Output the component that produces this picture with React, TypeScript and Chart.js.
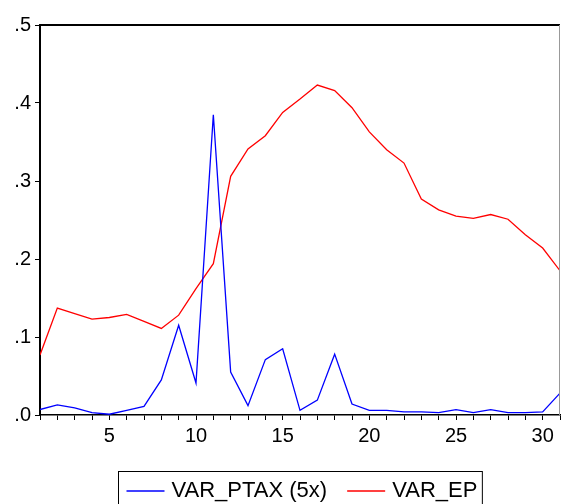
import React, { useEffect, useRef } from "react";
import { Chart, registerables } from "chart.js";

Chart.register(...registerables);

const days = [1,2,3,4,5,6,7,8,9,10,11,12,13,14,15,16,17,18,19,20,21,22,23,24,25,26,27,28,29,30,31];
const varPtax5x = [0.007,0.013,0.009,0.003,0.001,0.006,0.011,0.045,0.115,0.041,0.385,0.055,0.012,0.071,0.085,0.006,0.019,0.078,0.014,0.006,0.006,0.004,0.004,0.003,0.007,0.003,0.007,0.003,0.003,0.004,0.028];
const varEp = [0.077,0.137,0.130,0.123,0.125,0.129,0.120,0.111,0.128,0.162,0.194,0.306,0.341,0.358,0.388,0.405,0.423,0.416,0.394,0.363,0.340,0.323,0.277,0.263,0.255,0.252,0.257,0.251,0.231,0.214,0.185];
const seriesNames = ["VAR_PTAX (5x)", "VAR_EP"];
const seriesColors = ["#0000FF", "#FF0000"];

const FONT = '"Liberation Sans", Arial, sans-serif';

const framePlugin = {
  id: "frame",
  afterDraw(chart: any) {
    const { ctx, chartArea } = chart;
    const { left, right, top, bottom } = chartArea;
    ctx.save();
    ctx.strokeStyle = "#000";
    ctx.lineWidth = 2;
    ctx.beginPath();
    ctx.moveTo(left - 1, top);
    ctx.lineTo(right, top);
    ctx.stroke();
    ctx.strokeStyle = "#999";
    ctx.lineWidth = 1;
    ctx.beginPath();
    ctx.moveTo(right - 0.5, top);
    ctx.lineTo(right - 0.5, bottom);
    ctx.stroke();

    // legend
    ctx.font = `22px ${FONT}`;
    const lineLen = 38;
    const gapText = 7;
    const gapItem = 20;
    const padL = 8;
    const padR = 5;
    const widths = seriesNames.map((s) => ctx.measureText(s).width);
    let total = padL + padR;
    widths.forEach((w, i) => {
      total += lineLen + gapText + w + (i < widths.length - 1 ? gapItem : 0);
    });
    const cx = (left + right) / 2;
    const bx = Math.round(cx - total / 2) + 0.5;
    const by = 471.5;
    ctx.strokeStyle = "#000";
    ctx.lineWidth = 1;
    ctx.strokeRect(bx, by, total, 40);
    let x = bx + padL;
    const ly = 491;
    seriesNames.forEach((s, i) => {
      ctx.strokeStyle = seriesColors[i];
      ctx.lineWidth = 1.3;
      ctx.beginPath();
      ctx.moveTo(x, ly);
      ctx.lineTo(x + lineLen, ly);
      ctx.stroke();
      x += lineLen + gapText;
      ctx.fillStyle = "#000";
      ctx.textBaseline = "middle";
      ctx.textAlign = "left";
      ctx.fillText(s, x, ly);
      x += widths[i] + gapItem;
    });
    ctx.restore();
  },
};

export default function App() {
  const ref = useRef<HTMLCanvasElement>(null);
  useEffect(() => {
    document.body.style.margin = "0";
    const canvas = ref.current!;
    const chart = new Chart(canvas, {
      type: "line",
      data: {
        datasets: [
          {
            label: seriesNames[0],
            data: days.map((d, i) => ({ x: d, y: varPtax5x[i] })),
            borderColor: seriesColors[0],
            borderWidth: 1.3,
            pointRadius: 0,
            tension: 0,
          },
          {
            label: seriesNames[1],
            data: days.map((d, i) => ({ x: d, y: varEp[i] })),
            borderColor: seriesColors[1],
            borderWidth: 1.3,
            pointRadius: 0,
            tension: 0,
          },
        ],
      },
      options: {
        animation: false,
        responsive: false,
        devicePixelRatio: 1,
        layout: { padding: { top: 25, right: 1, left: 0, bottom: 0 } },
        plugins: { legend: { display: false }, tooltip: { enabled: false } },
        scales: {
          x: {
            type: "linear",
            min: 1,
            max: 31,
            afterFit(scale: any) {
              scale.height = 89;
              scale.paddingRight = 0;
              scale.paddingLeft = 0;
            },
            border: { display: true, color: "#000", width: 1.5 },
            grid: {
              display: true,
              drawOnChartArea: false,
              drawTicks: true,
              tickLength: 5,
              color: "#000",
              lineWidth: 1,
            },
            ticks: {
              stepSize: 1,
              autoSkip: false,
              maxRotation: 0,
              padding: 4,
              color: "#000",
              font: { family: FONT, size: 20 },
              callback: (v: any) => (Number(v) % 5 === 0 ? String(v) : ""),
            },
          },
          y: {
            type: "linear",
            min: 0,
            max: 0.5,
            afterFit(scale: any) {
              scale.width = 40;
            },
            border: { display: true, color: "#000", width: 2 },
            grid: {
              display: true,
              drawOnChartArea: false,
              drawTicks: true,
              tickLength: 5,
              color: "#000",
              lineWidth: 1,
            },
            ticks: {
              stepSize: 0.1,
              padding: 4,
              color: "#000",
              font: { family: FONT, size: 20 },
              callback: (v: any) => Number(v).toFixed(1).replace(/^0/, ""),
            },
          },
        },
      },
      plugins: [framePlugin],
    });
    return () => chart.destroy();
  }, []);
  return (
    <div style={{ width: 561, height: 504 }}>
      <canvas ref={ref} width={561} height={504} />
    </div>
  );
}
